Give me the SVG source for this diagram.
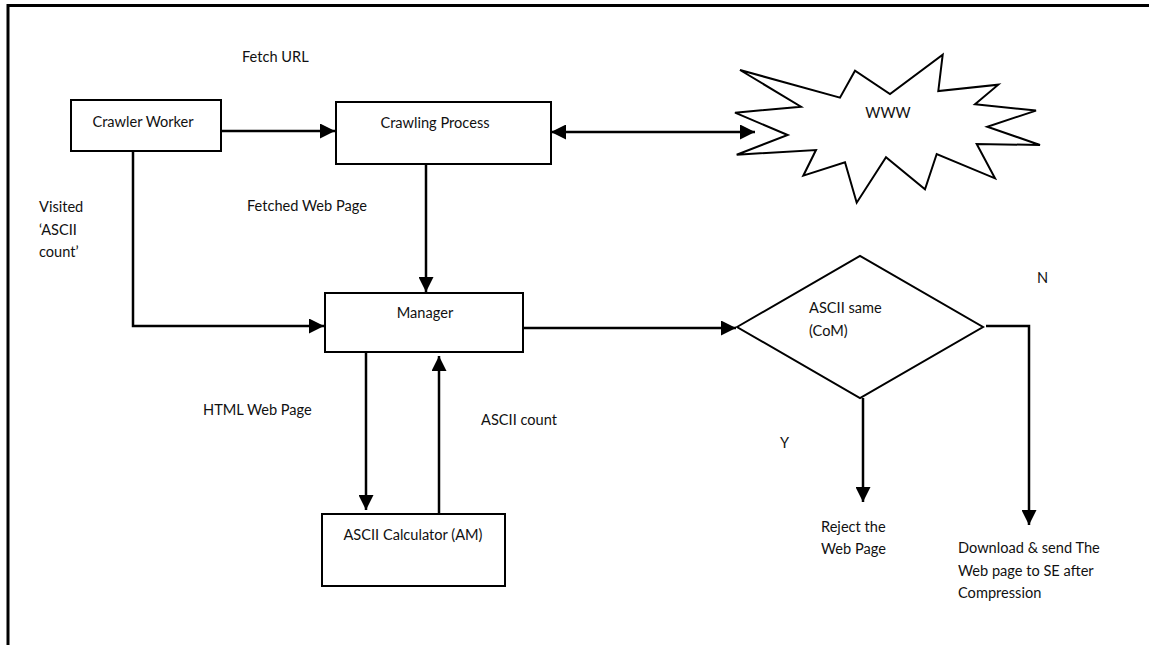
<svg xmlns="http://www.w3.org/2000/svg" width="1149" height="645" viewBox="0 0 1149 645">
<defs>
<style>
.t{font-family:"Lato","Liberation Sans",sans-serif;font-size:14.6px;fill:#111}
.m{text-anchor:middle}
.box{fill:#fff;stroke:#000;stroke-width:2}
.ln{fill:none;stroke:#000;stroke-width:2.5}
.arr{marker-end:url(#ah)}
</style>
<marker id="ah" markerUnits="userSpaceOnUse" markerWidth="16" markerHeight="15" refX="15" refY="7.5" orient="auto-start-reverse">
<path d="M0,0 L15,7.5 L0,15 z" fill="#000"/>
</marker>
</defs>
<rect width="1149" height="645" fill="#fff"/>
<g id="frame">
<path d="M8,645 L8,5.5 L1149,5.5" fill="none" stroke="#000" stroke-width="3"/>
</g>
<g id="connectors">
<line class="ln arr" x1="221" y1="131" x2="335" y2="131"/>
<line class="ln arr" x1="551" y1="132" x2="755" y2="132" marker-start="url(#ah)"/>
<line class="ln arr" x1="426" y1="164" x2="426" y2="292"/>
<polyline class="ln arr" points="133,151 133,326 324,326"/>
<line class="ln arr" x1="523" y1="328" x2="736" y2="328"/>
<line class="ln arr" x1="366" y1="352" x2="366" y2="510"/>
<line class="ln arr" x1="439" y1="514" x2="439" y2="356"/>
<line class="ln arr" x1="863" y1="398" x2="863" y2="502"/>
<polyline class="ln arr" points="986,326 1029,326 1029,525"/>
</g>
<g id="crawler-worker">
<rect class="box" x="71" y="100" width="150" height="51"/>
<text class="t m" x="143" y="127">Crawler Worker</text>
</g>
<g id="crawling-process">
<rect class="box" x="336" y="102" width="215" height="62"/>
<text class="t m" x="435" y="128">Crawling Process</text>
</g>
<g id="www">
<polygon points="740,70 840,97.7 855,70.7 890,94 942.7,54.7 938.3,91 998.3,84.7 975,104.3 1036,110.6 987.3,126.7 1040,145 976.7,144 995,178.3 936.7,154 925,189.3 886,157.3 856.7,202.7 845,162.3 803.3,175.7 816,150 736.7,154.7 787.7,135 735,112.7 801,106.7" fill="#fff" stroke="#000" stroke-width="2" stroke-linejoin="miter"/>
<text class="t m" x="888" y="118">WWW</text>
</g>
<g id="manager">
<rect class="box" x="325" y="293" width="198" height="59"/>
<text class="t m" x="425" y="318">Manager</text>
</g>
<g id="calculator">
<rect class="box" x="322" y="514" width="183" height="72"/>
<text class="t m" x="413" y="540">ASCII Calculator (AM)</text>
</g>
<g id="decision">
<polygon points="737,327 860,256 983,327 860,398" fill="#fff" stroke="#000" stroke-width="2"/>
<text class="t" x="809" y="313">ASCII same</text>
<text class="t" x="809" y="336">(CoM)</text>
</g>
<g id="labels">
<text class="t" x="242" y="62">Fetch URL</text>
<text class="t" x="247" y="211">Fetched Web Page</text>
<text class="t" x="39" y="212">Visited</text>
<text class="t" x="39" y="235">‘ASCII</text>
<text class="t" x="39" y="257">count’</text>
<text class="t" x="203" y="415">HTML Web Page</text>
<text class="t" x="481" y="425">ASCII count</text>
<text class="t" x="1037" y="283">N</text>
<text class="t" x="780" y="448">Y</text>
<text class="t" x="821" y="532">Reject the</text>
<text class="t" x="821" y="554">Web Page</text>
<text class="t" x="958" y="553">Download &amp; send The</text>
<text class="t" x="958" y="576">Web page to SE after</text>
<text class="t" x="958" y="598">Compression</text>
</g>
</svg>
